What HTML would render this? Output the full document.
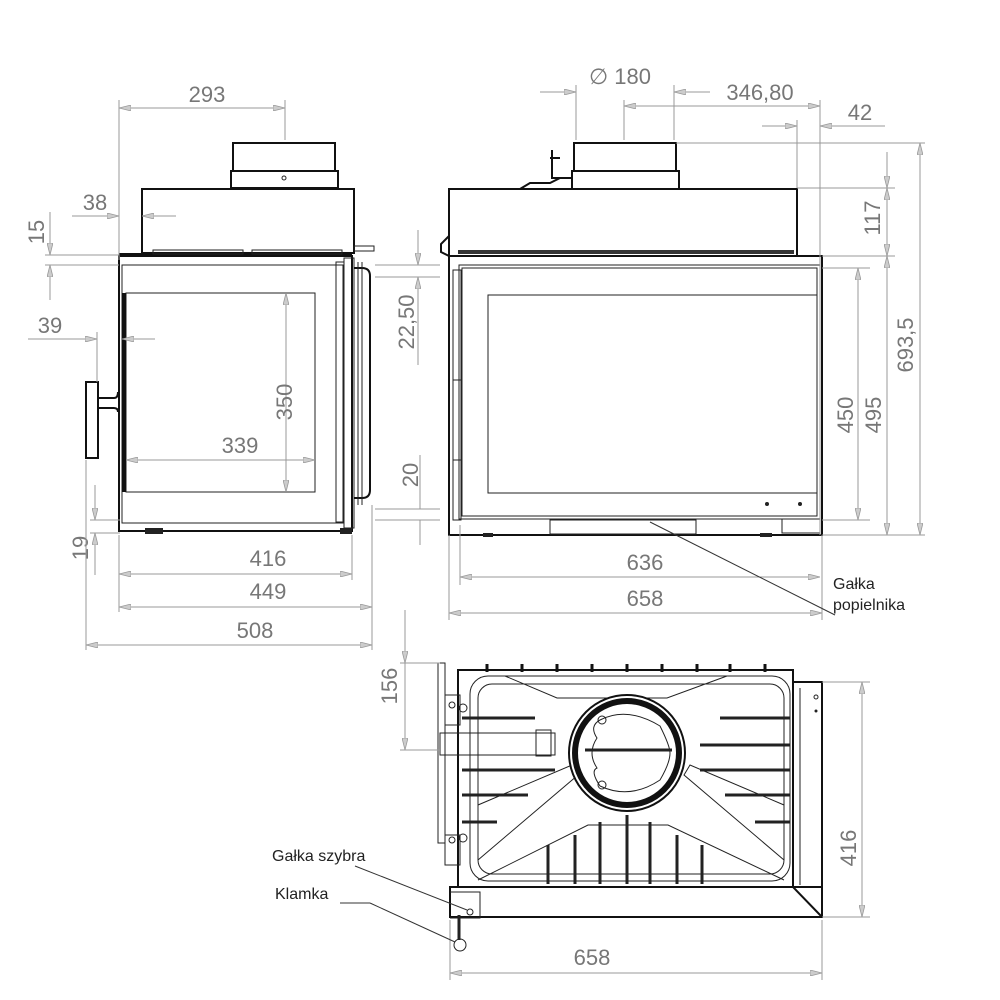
<!DOCTYPE html>
<html><head><meta charset="utf-8"><style>
html,body{margin:0;padding:0;background:#fff}
svg{display:block}
text{font-family:"Liberation Sans",sans-serif;fill:#777;font-size:22px}
.d{stroke:#999;stroke-width:1;fill:none}
.k{stroke:#111;stroke-width:2;fill:none}
.t{stroke:#222;stroke-width:1;fill:none}
</style></head><body>
<svg width="1000" height="1000" viewBox="0 0 1000 1000" xmlns="http://www.w3.org/2000/svg">
<defs>
<marker id="a" viewBox="0 0 12 6" refX="12" refY="3" markerWidth="12" markerHeight="6" orient="auto-start-reverse" markerUnits="userSpaceOnUse">
<path d="M0,0 L12,3 L0,6 Z" fill="#ccc" stroke="#999" stroke-width="0.8"/></marker>
</defs>

<!-- ===== LEFT SIDE VIEW ===== -->
<g>
<rect class="k" x="233" y="143" width="102" height="28"/>
<rect class="k" x="231" y="171" width="107" height="17"/>
<circle cx="284" cy="178" r="2" class="t"/>
<rect class="k" x="142" y="189" width="212" height="64"/>
<line class="k" x1="119" y1="254" x2="352" y2="254"/>
<rect class="t" x="153" y="250" width="90" height="4" fill="#333"/>
<rect class="t" x="252" y="250" width="90" height="4" fill="#333"/>
<rect class="t" x="354" y="246" width="20" height="5"/>
<rect class="k" x="119" y="256" width="233" height="275"/>
<rect class="t" x="122" y="265" width="221" height="258"/>
<rect class="t" x="126" y="293" width="189" height="199"/>
<line x1="124" y1="293" x2="124" y2="492" stroke="#111" stroke-width="4"/>
<rect class="t" x="336" y="262" width="8" height="260"/>
<rect class="t" x="344" y="258" width="10" height="270"/>
<path class="k" d="M354 268 h8 q8 0 8 8 v214 q0 8 -8 8 h-8"/>
<line class="t" x1="358" y1="262" x2="358" y2="505"/>
<line class="t" x1="362" y1="262" x2="362" y2="505"/>
<rect class="k" x="86" y="382" width="12" height="76"/>
<path class="k" d="M98 398 h16 q4 0 4 -6 M98 408 h16 q4 0 4 4"/>
<rect x="145" y="528" width="18" height="6" fill="#222"/>
<rect x="340" y="528" width="12" height="6" fill="#222"/>
</g>
<!-- left dims -->
<g>
<line class="d" x1="119" y1="100" x2="119" y2="260"/>
<line class="d" x1="285" y1="100" x2="285" y2="140"/>
<line class="d" x1="119" y1="108" x2="285" y2="108" marker-start="url(#a)" marker-end="url(#a)"/>
<text x="207" y="102" text-anchor="middle">293</text>
<line class="d" x1="72" y1="216" x2="119" y2="216" marker-end="url(#a)"/>
<line class="d" x1="176" y1="216" x2="142" y2="216" marker-end="url(#a)"/>
<text x="95" y="210" text-anchor="middle">38</text>
<line class="d" x1="45" y1="255" x2="119" y2="255"/>
<line class="d" x1="45" y1="265" x2="119" y2="265"/>
<line class="d" x1="50" y1="212" x2="50" y2="255" marker-end="url(#a)"/>
<line class="d" x1="50" y1="300" x2="50" y2="265" marker-end="url(#a)"/>
<text transform="translate(44,232) rotate(-90)" text-anchor="middle">15</text>
<line class="d" x1="28" y1="339" x2="97" y2="339" marker-end="url(#a)"/>
<line class="d" x1="155" y1="339" x2="122" y2="339" marker-end="url(#a)"/>
<line class="d" x1="97" y1="332" x2="97" y2="382"/>
<text x="50" y="333" text-anchor="middle">39</text>
<line class="d" x1="286" y1="293" x2="286" y2="492" marker-start="url(#a)" marker-end="url(#a)"/>
<text transform="translate(292,402) rotate(-90)" text-anchor="middle">350</text>
<line class="d" x1="126" y1="460" x2="315" y2="460" marker-start="url(#a)" marker-end="url(#a)"/>
<text x="240" y="453" text-anchor="middle">339</text>
<line class="d" x1="90" y1="520" x2="120" y2="520"/>
<line class="d" x1="90" y1="533" x2="120" y2="533"/>
<line class="d" x1="95" y1="485" x2="95" y2="520" marker-end="url(#a)"/>
<line class="d" x1="95" y1="575" x2="95" y2="533" marker-end="url(#a)"/>
<text transform="translate(88,548) rotate(-90)" text-anchor="middle">19</text>
<line class="d" x1="86" y1="460" x2="86" y2="650"/>
<line class="d" x1="352" y1="535" x2="352" y2="580"/>
<line class="d" x1="372" y1="505" x2="372" y2="650"/>
<line class="d" x1="119" y1="535" x2="119" y2="612"/>
<line class="d" x1="119" y1="574" x2="352" y2="574" marker-start="url(#a)" marker-end="url(#a)"/>
<text x="268" y="566" text-anchor="middle">416</text>
<line class="d" x1="119" y1="607" x2="372" y2="607" marker-start="url(#a)" marker-end="url(#a)"/>
<text x="268" y="599" text-anchor="middle">449</text>
<line class="d" x1="86" y1="645" x2="372" y2="645" marker-start="url(#a)" marker-end="url(#a)"/>
<text x="255" y="638" text-anchor="middle">508</text>
<line class="d" x1="375" y1="265" x2="440" y2="265"/>
<line class="d" x1="375" y1="277" x2="440" y2="277"/>
<line class="d" x1="418" y1="230" x2="418" y2="265" marker-end="url(#a)"/>
<line class="d" x1="418" y1="365" x2="418" y2="277" marker-end="url(#a)"/>
<text transform="translate(414,322) rotate(-90)" text-anchor="middle">22,50</text>
<line class="d" x1="375" y1="509" x2="440" y2="509"/>
<line class="d" x1="375" y1="520" x2="440" y2="520"/>
<line class="d" x1="420" y1="455" x2="420" y2="509"/>
<line class="d" x1="420" y1="545" x2="420" y2="520"/>
<text transform="translate(418,475) rotate(-90)" text-anchor="middle">20</text>
</g>

<!-- ===== FRONT VIEW ===== -->
<g>
<rect class="k" x="574" y="143" width="102" height="28"/>
<rect class="k" x="572" y="171" width="107" height="18"/>
<path class="k" d="M572 178 h-20 v-28 M550 158 h10 M560 178 l-10 5 h-20 l-10 6"/>
<rect class="k" x="449" y="189" width="348" height="67"/>
<rect x="458" y="250" width="336" height="4" fill="#333"/>
<path class="k" d="M449 236 l-8 8 v8 l8 4"/>
<rect class="k" x="449" y="256" width="373" height="279"/>
<rect class="t" x="459" y="265" width="361" height="254"/>
<rect class="t" x="462" y="268" width="355" height="248"/>
<rect class="t" x="488" y="295" width="329" height="198"/>
<rect class="t" x="453" y="270" width="8" height="250"/>
<rect class="t" x="453" y="380" width="8" height="80"/>
<circle cx="767" cy="504" r="2" fill="#222"/><circle cx="800" cy="504" r="2" fill="#222"/>
<rect class="t" x="550" y="520" width="146" height="14"/>
<rect x="782" y="519" width="38" height="14" fill="none" stroke="#222"/>
<rect x="483" y="533" width="10" height="4" fill="#222"/>
<rect x="760" y="533" width="12" height="4" fill="#222"/>
</g>
<g>
<line class="d" x1="576" y1="85" x2="576" y2="140"/>
<line class="d" x1="674" y1="85" x2="674" y2="140"/>
<line class="d" x1="540" y1="92" x2="576" y2="92" marker-end="url(#a)"/>
<line class="d" x1="710" y1="92" x2="674" y2="92" marker-end="url(#a)"/>
<text x="620" y="84" text-anchor="middle">∅ 180</text>
<line class="d" x1="624" y1="100" x2="624" y2="140"/>
<line class="d" x1="820" y1="100" x2="820" y2="535"/>
<line class="d" x1="624" y1="106" x2="820" y2="106" marker-start="url(#a)" marker-end="url(#a)"/>
<text x="760" y="100" text-anchor="middle">346,80</text>
<line class="d" x1="797" y1="120" x2="797" y2="188"/>
<line class="d" x1="762" y1="126" x2="797" y2="126" marker-end="url(#a)"/>
<line class="d" x1="885" y1="126" x2="820" y2="126" marker-end="url(#a)"/>
<text x="860" y="120" text-anchor="middle">42</text>
<line class="d" x1="676" y1="143" x2="925" y2="143"/>
<line class="d" x1="797" y1="188" x2="895" y2="188"/>
<line class="d" x1="822" y1="256" x2="895" y2="256"/>
<line class="d" x1="822" y1="535" x2="925" y2="535"/>
<line class="d" x1="822" y1="268" x2="870" y2="268"/>
<line class="d" x1="822" y1="520" x2="870" y2="520"/>
<line class="d" x1="887" y1="152" x2="887" y2="188" marker-end="url(#a)"/>
<line class="d" x1="887" y1="188" x2="887" y2="256" marker-start="url(#a)" marker-end="url(#a)"/>
<text transform="translate(880,218) rotate(-90)" text-anchor="middle">117</text>
<line class="d" x1="920" y1="143" x2="920" y2="535" marker-start="url(#a)" marker-end="url(#a)"/>
<text transform="translate(913,345) rotate(-90)" text-anchor="middle">693,5</text>
<line class="d" x1="858" y1="268" x2="858" y2="520" marker-start="url(#a)" marker-end="url(#a)"/>
<text transform="translate(853,415) rotate(-90)" text-anchor="middle">450</text>
<line class="d" x1="887" y1="256" x2="887" y2="535" marker-start="url(#a)" marker-end="url(#a)"/>
<text transform="translate(881,415) rotate(-90)" text-anchor="middle">495</text>
<line class="d" x1="460" y1="525" x2="460" y2="585"/>
<line class="d" x1="449" y1="535" x2="449" y2="620"/>
<line class="d" x1="822" y1="535" x2="822" y2="620"/>
<line class="d" x1="460" y1="577" x2="820" y2="577" marker-start="url(#a)" marker-end="url(#a)"/>
<text x="645" y="570" text-anchor="middle">636</text>
<line class="d" x1="449" y1="613" x2="822" y2="613" marker-start="url(#a)" marker-end="url(#a)"/>
<text x="645" y="606" text-anchor="middle">658</text>
<line x1="650" y1="522" x2="835" y2="615" stroke="#333" stroke-width="1"/>
<text x="833" y="589" style="font-size:16px;fill:#222">Gałka</text>
<text x="833" y="610" style="font-size:16px;fill:#222">popielnika</text>
</g>

<!-- ===== TOP VIEW ===== -->
<g>
<g stroke="#111" stroke-width="3">
<line x1="487" y1="664" x2="487" y2="672"/><line x1="522" y1="664" x2="522" y2="672"/>
<line x1="557" y1="664" x2="557" y2="672"/><line x1="592" y1="664" x2="592" y2="672"/>
<line x1="627" y1="664" x2="627" y2="672"/><line x1="662" y1="664" x2="662" y2="672"/>
<line x1="697" y1="664" x2="697" y2="672"/><line x1="730" y1="664" x2="730" y2="672"/>
<line x1="765" y1="664" x2="765" y2="672"/>
</g>
<rect class="k" x="458" y="670" width="335" height="217"/>
<rect class="t" x="470" y="676" width="320" height="205" rx="18"/>
<rect class="t" x="478" y="684" width="306" height="190" rx="14"/>
<path class="t" d="M505 676 h222 l-60 22 h-110 z"/>
<path class="t" d="M478 860 l100 -85 l-6 -10 l-94 40 M784 860 l-100 -85 l6 -10 l94 40 M478 880 l110 -55 h80 l116 55"/>
<g stroke="#222" stroke-width="3">
<line x1="462" y1="718" x2="535" y2="718"/><line x1="720" y1="718" x2="790" y2="718"/>
<line x1="462" y1="770" x2="555" y2="770"/><line x1="700" y1="745" x2="790" y2="745"/>
<line x1="700" y1="770" x2="790" y2="770"/>
<line x1="462" y1="795" x2="528" y2="795"/><line x1="725" y1="795" x2="790" y2="795"/>
<line x1="462" y1="822" x2="497" y2="822"/><line x1="755" y1="822" x2="790" y2="822"/>
<line x1="548" y1="845" x2="548" y2="884"/><line x1="575" y1="835" x2="575" y2="884"/>
<line x1="600" y1="822" x2="600" y2="884"/><line x1="627" y1="815" x2="627" y2="884"/>
<line x1="650" y1="822" x2="650" y2="884"/><line x1="677" y1="835" x2="677" y2="884"/>
<line x1="702" y1="845" x2="702" y2="884"/>
</g>
<circle cx="627" cy="753" r="58" fill="#fff" stroke="#111" stroke-width="2"/>
<circle cx="627" cy="753" r="52" fill="none" stroke="#111" stroke-width="6"/>
<path class="t" d="M600 720 q27 -14 60 6 q10 20 10 27 q0 10 -10 27 q-30 20 -60 6 q-10 -15 -3 -18 q-10 -15 0 -30 q-8 -12 3 -18 z"/>
<line x1="585" y1="750" x2="672" y2="750" stroke="#222" stroke-width="3"/>
<circle cx="602" cy="720" r="4" class="t"/><circle cx="602" cy="785" r="4" class="t"/>
<rect class="t" x="440" y="733" width="115" height="22"/>
<rect class="t" x="536" y="730" width="15" height="26"/>
<rect class="t" x="438" y="663" width="7" height="180"/>
<rect class="t" x="445" y="695" width="15" height="30"/><circle cx="452" cy="705" r="3" class="t"/>
<rect class="t" x="445" y="835" width="15" height="30"/><circle cx="452" cy="840" r="3" class="t"/>
<circle cx="463" cy="708" r="4" class="t"/><circle cx="463" cy="838" r="4" class="t"/>
<rect class="k" x="450" y="887" width="372" height="30"/>
<path class="k" d="M793 682 h29 v235 M793 682 v205 l29 30"/>
<line class="t" x1="800" y1="688" x2="800" y2="885"/>
<circle cx="816" cy="697" r="2" class="t"/><circle cx="816" cy="711" r="1.5" fill="#222"/>
<path class="t" d="M450 892 h30 v26 h-30"/><circle cx="470" cy="912" r="3" class="t"/>
<line x1="459" y1="915" x2="459" y2="940" stroke="#222" stroke-width="3"/>
<circle cx="460" cy="945" r="6" class="t"/>
</g>
<g>
<line class="d" x1="400" y1="663" x2="440" y2="663"/>
<line class="d" x1="400" y1="750" x2="440" y2="750"/>
<line class="d" x1="405" y1="610" x2="405" y2="663" marker-end="url(#a)"/>
<line class="d" x1="405" y1="663" x2="405" y2="750" marker-end="url(#a)"/>
<text transform="translate(397,686) rotate(-90)" text-anchor="middle">156</text>
<line class="d" x1="822" y1="682" x2="870" y2="682"/>
<line class="d" x1="822" y1="917" x2="870" y2="917"/>
<line class="d" x1="862" y1="682" x2="862" y2="917" marker-start="url(#a)" marker-end="url(#a)"/>
<text transform="translate(856,848) rotate(-90)" text-anchor="middle">416</text>
<line class="d" x1="450" y1="920" x2="450" y2="980"/>
<line class="d" x1="822" y1="920" x2="822" y2="980"/>
<line class="d" x1="450" y1="973" x2="822" y2="973" marker-start="url(#a)" marker-end="url(#a)"/>
<text x="592" y="965" text-anchor="middle">658</text>
<line x1="355" y1="866" x2="467" y2="910" stroke="#333" stroke-width="1"/>
<text x="272" y="861" style="font-size:16px;fill:#222">Gałka szybra</text>
<line x1="340" y1="903" x2="370" y2="903" stroke="#333" stroke-width="1"/>
<line x1="370" y1="903" x2="455" y2="942" stroke="#333" stroke-width="1"/>
<text x="275" y="899" style="font-size:16px;fill:#222">Klamka</text>
</g>
</svg>
</body></html>
